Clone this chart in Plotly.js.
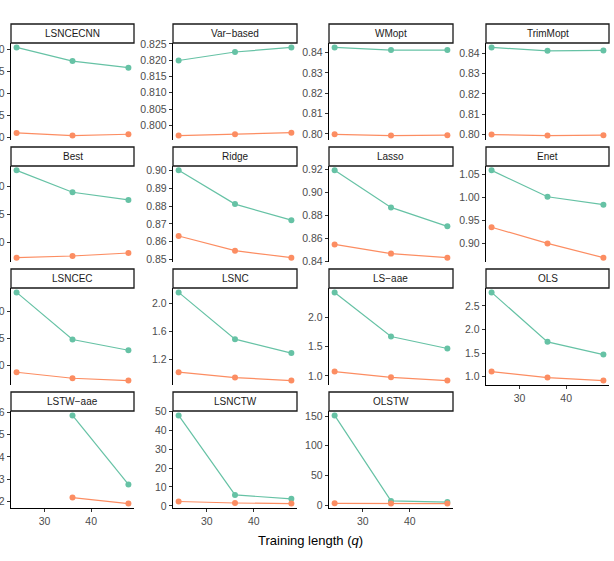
<!DOCTYPE html>
<html>
<head>
<meta charset="utf-8">
<script src="https://cdn.plot.ly/plotly-3.0.1.min.js"></script>
<style>
  html, body { margin: 0; padding: 0; background: #fff; }
  #chart { width: 614px; height: 561px; }
</style>
</head>
<body>
<div id="chart"></div>
<script>
// Training lengths (q) on the shared x axis
const trainLen = [24, 36, 48];

// Forecast combination methods, in facet order
const methods = ['LSNCECNN', 'Var\u2212based', 'WMopt', 'TrimMopt',
                 'Best', 'Ridge', 'Lasso', 'Enet',
                 'LSNCEC', 'LSNC', 'LS\u2212aae', 'OLS',
                 'LSTW\u2212aae', 'LSNCTW', 'OLSTW'];

// Upper (green) series per method, one value per training length
const seriesUpper = [
  [0.8205, 0.8174, 0.8159],
  [0.8199, 0.8225, 0.8239],
  [0.8425, 0.8412, 0.8412],
  [0.8428, 0.8411, 0.8413],
  [0.9295, 0.8899, 0.8761],
  [0.9000, 0.8811, 0.8721],
  [0.9194, 0.8872, 0.8707],
  [1.0586, 1.0015, 0.9843],
  [2.354, 1.481, 1.282],
  [2.154, 1.485, 1.286],
  [2.421, 1.671, 1.466],
  [2.786, 1.737, 1.466],
  [null, 5.86, 2.77],
  [47.8, 5.8, 3.7],
  [151, 7, 5]
];

// Lower (orange) series per method
const seriesLower = [
  [0.8011, 0.8005, 0.8008],
  [0.7969, 0.7973, 0.7978],
  [0.7998, 0.7992, 0.7994],
  [0.8000, 0.7995, 0.7997],
  [0.7718, 0.7748, 0.7802],
  [0.8632, 0.8550, 0.8511],
  [0.8550, 0.8470, 0.8435],
  [0.9356, 0.9006, 0.8698],
  [0.875, 0.763, 0.720],
  [1.013, 0.936, 0.893],
  [1.073, 0.976, 0.920],
  [1.107, 0.979, 0.915],
  [null, 2.18, 1.91],
  [2.3, 1.5, 1.2],
  [3.0, 2.5, 2.5]
];

// y tick spacing and label format for each facet
const yDtick  = [0.005, 0.005, 0.01, 0.01, 0.05, 0.01, 0.02, 0.05, 0.5, 0.4, 0.5, 0.5, 1, 10, 50];
const yFormat = ['.3f', '.3f', '.2f', '.2f', '.2f', '.2f', '.2f', '.2f', '.1f', '.1f', '.1f', '.1f', 'd', 'd', 'd'];

const xTicks = [30, 40];

const W = 614, H = 561;
const colPx = [[11, 134], [173, 297], [329, 453], [486, 609]];
const rowPx = [[43, 140], [166, 262], [288, 385], [411, 508]];
const stripH = 19;

const GREEN = '#66C2A5', ORANGE = '#FC8D62';
const FONT = 'Liberation Sans, Arial, sans-serif';

const traces = [];
const layout = {
  width: W, height: H,
  margin: {l: 0, r: 0, t: 0, b: 0},
  paper_bgcolor: '#fff', plot_bgcolor: '#fff',
  showlegend: false,
  font: {family: FONT},
  shapes: [], annotations: []
};

// x span with ggplot-style 5% padding
const xMin = Math.min(...trainLen), xMax = Math.max(...trainLen);
const xPad = 0.05 * (xMax - xMin);

const nPanels = methods.length;
const lastRowOfCol = [3, 3, 3, 2];

for (let i = 0; i < nPanels; i++) {
  const r = Math.floor(i / 4), c = i % 4;
  const k = i + 1;
  const xa = 'x' + (k === 1 ? '' : k), ya = 'y' + (k === 1 ? '' : k);
  const xKey = 'xaxis' + (k === 1 ? '' : k), yKey = 'yaxis' + (k === 1 ? '' : k);

  const [x0, x1] = colPx[c];
  const [y0, y1] = rowPx[r];

  const vals = seriesUpper[i].concat(seriesLower[i]).filter(v => v !== null);
  const lo = Math.min(...vals), hi = Math.max(...vals);
  const pad = 0.05 * (hi - lo);

  const bottom = (r === lastRowOfCol[c]);

  layout[xKey] = {
    domain: [x0 / W, x1 / W],
    anchor: ya,
    range: [xMin - xPad, xMax + xPad],
    tickvals: xTicks,
    showticklabels: bottom,
    ticks: bottom ? 'outside' : '',
    ticklen: 3, tickwidth: 1, tickcolor: '#333',
    showline: bottom, linecolor: '#000', linewidth: 1.3,
    showgrid: false, zeroline: false,
    tickfont: {size: 10.5, color: '#4D4D4D', family: FONT},
    fixedrange: true
  };
  layout[yKey] = {
    domain: [1 - y1 / H, 1 - y0 / H],
    anchor: xa,
    range: [lo - pad, hi + pad],
    dtick: yDtick[i], tick0: 0,
    tickformat: yFormat[i],
    ticks: 'outside', ticklen: 3, tickwidth: 1, tickcolor: '#333',
    showline: true, linecolor: '#000', linewidth: 1.3,
    showgrid: false, zeroline: false,
    tickfont: {size: 10.5, color: '#4D4D4D', family: FONT},
    fixedrange: true
  };

  [[seriesUpper[i], GREEN], [seriesLower[i], ORANGE]].forEach(([ys, col]) => {
    traces.push({
      type: 'scatter', mode: 'lines+markers',
      x: trainLen, y: ys,
      xaxis: xa, yaxis: ya,
      line: {color: col, width: 1.2},
      marker: {color: col, size: 6},
      connectgaps: false,
      cliponaxis: false,
      hoverinfo: 'skip'
    });
  });

  // facet strip
  layout.shapes.push({
    type: 'rect', xref: 'paper', yref: 'paper',
    x0: x0 / W, x1: x1 / W,
    y0: 1 - y0 / H, y1: 1 - (y0 - stripH) / H,
    fillcolor: '#fff', line: {color: '#1A1A1A', width: 1.3}
  });
  layout.annotations.push({
    xref: 'paper', yref: 'paper',
    x: (x0 + x1) / 2 / W, y: 1 - (y0 - stripH / 2) / H,
    xanchor: 'center', yanchor: 'middle',
    text: methods[i], showarrow: false,
    font: {size: 10, color: '#1A1A1A', family: FONT}
  });
}

// shared x axis title
layout.annotations.push({
  xref: 'paper', yref: 'paper',
  x: (colPx[0][0] + colPx[3][1]) / 2 / W, y: 1 - 540 / H,
  xanchor: 'center', yanchor: 'middle',
  text: 'Training length (<i>q</i>)', showarrow: false,
  font: {size: 13, color: '#000', family: FONT}
});

Plotly.newPlot('chart', traces, layout, {staticPlot: true, displayModeBar: false});
</script>
</body>
</html>
